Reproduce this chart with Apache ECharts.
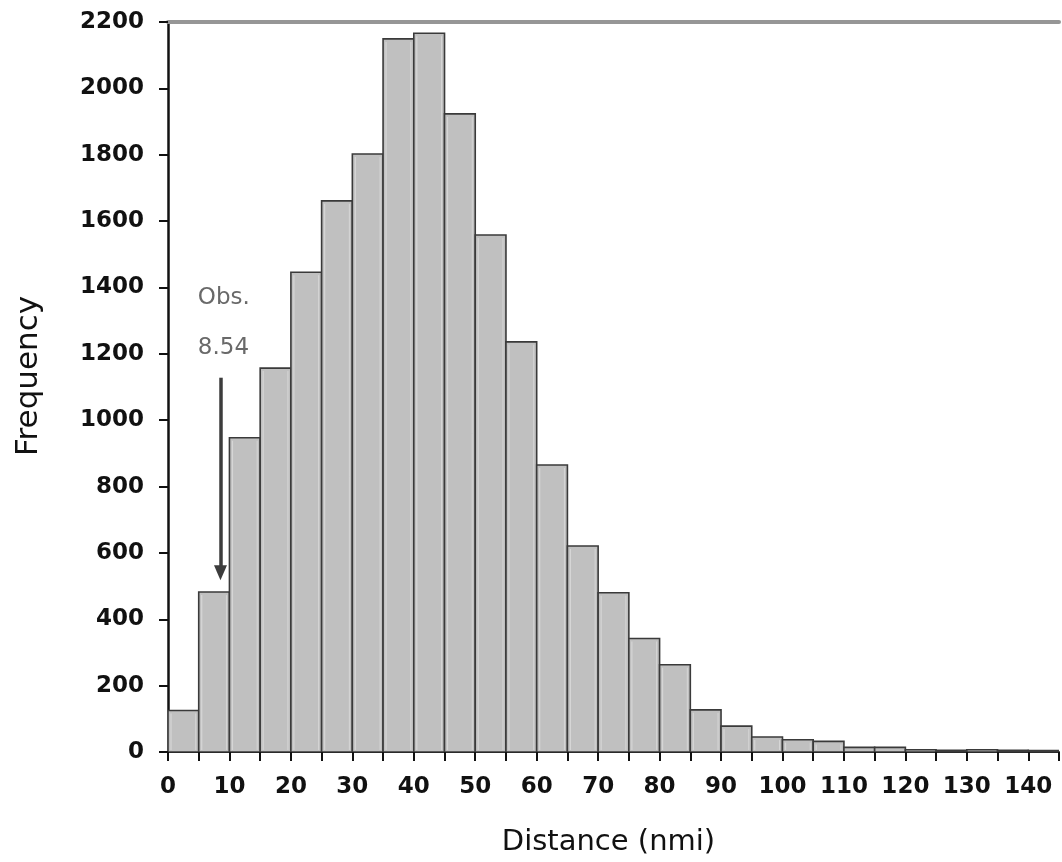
<!DOCTYPE html>
<html>
<head>
<meta charset="utf-8">
<script src="https://cdn.jsdelivr.net/npm/echarts@6/dist/echarts.min.js"></script>
<style>
  html, body { margin: 0; padding: 0; background: #fff; }
  #chart { width: 1062px; height: 862px; }
</style>
</head>
<body>
<div id="chart"></div>
<script>
// Histogram of distances, 5 nmi bins
const binStarts = [0, 5, 10, 15, 20, 25, 30, 35, 40, 45, 50, 55, 60, 65, 70,
                   75, 80, 85, 90, 95, 100, 105, 110, 115, 120, 125, 130, 135, 140];
const binWidth = 5;
const frequencies = [125, 482, 947, 1157, 1446, 1661, 1802, 2149, 2166, 1923, 1558, 1236, 865, 621, 480,
                     342, 263, 127, 78, 45, 37, 32, 14, 14, 7, 5, 7, 5, 4];
const yTicks = [0, 200, 400, 600, 800, 1000, 1200, 1400, 1600, 1800, 2000, 2200];
const xLabelStep = 10;
const observed = 8.54;

const FONT = 'DejaVu Sans';
const histData = binStarts.map((s, i) => [s, s + binWidth, frequencies[i]]);

const chart = echarts.init(document.getElementById('chart'), null, { renderer: 'canvas' });

chart.setOption({
  backgroundColor: '#ffffff',
  animation: false,
  grid: { left: 168, top: 22, width: 897, height: 734.5 },
  xAxis: [{
    type: 'value',
    min: 0, max: 145, interval: binWidth,
    axisLine: { show: true, lineStyle: { color: '#2a2a2a', width: 2 } },
    axisTick: { show: true, inside: false, length: 9, lineStyle: { color: '#111', width: 2 } },
    splitLine: { show: false },
    axisLabel: {
      margin: 24,
      fontFamily: FONT, fontWeight: 'bold', fontSize: 23, color: '#111',
      formatter: v => (v % xLabelStep === 0 ? String(v) : '')
    },
    name: 'Distance (nmi)',
    nameLocation: 'middle',
    nameGap: 76,
    nameTextStyle: { fontFamily: FONT, fontSize: 29, color: '#111', padding: [0, 10, 0, 0] }
  }, {
    type: 'value',
    position: 'top',
    min: 0, max: 145,
    axisLine: { show: true, lineStyle: { color: '#969696', width: 4 } },
    axisTick: { show: false },
    axisLabel: { show: false },
    splitLine: { show: false }
  }],
  yAxis: {
    type: 'value',
    min: yTicks[0], max: yTicks[yTicks.length - 1], interval: yTicks[1] - yTicks[0],
    axisLine: { show: true, lineStyle: { color: '#111', width: 2.5 } },
    axisTick: { show: true, length: 9, lineStyle: { color: '#111', width: 2 } },
    splitLine: { show: false },
    axisLabel: {
      margin: 24,
      fontFamily: FONT, fontWeight: 'bold', fontSize: 23, color: '#111',
      formatter: v => String(v)
    }
  },
  graphic: [{
    type: 'text',
    x: 29, y: 376,
    rotation: Math.PI / 2,
    style: {
      text: 'Frequency',
      font: '31px "DejaVu Sans"',
      fill: '#111',
      align: 'center',
      verticalAlign: 'middle'
    }
  }],
  series: [{
    type: 'custom',
    name: 'Frequency',
    data: histData,
    clip: true,
    renderItem: function (params, api) {
      const p0 = api.coord([api.value(0), 0]);
      const p1 = api.coord([api.value(1), api.value(2)]);
      const x = p0[0], y = p1[1];
      const w = p1[0] - p0[0], h = p0[1] - p1[1];
      const children = [{
        type: 'rect',
        shape: { x: x, y: y, width: w, height: h },
        style: { fill: '#c0c0c0', stroke: '#3a3a3a', lineWidth: 1.6 }
      }];
      if (h > 8) {
        children.push({
          type: 'line',
          shape: { x1: x + 3, y1: y + 3, x2: x + 3, y2: p0[1] - 2 },
          style: { stroke: '#d6d6d6', lineWidth: 1.2 }
        }, {
          type: 'line',
          shape: { x1: x + w - 3, y1: y + 3, x2: x + w - 3, y2: p0[1] - 2 },
          style: { stroke: '#d6d6d6', lineWidth: 1 }
        });
      }
      return { type: 'group', children: children };
    }
  }, {
    type: 'scatter',
    name: 'annotation',
    symbolSize: 0,
    silent: true,
    data: [
      { name: 'Obs.', value: [4.85, 1368] },
      { name: String(observed), value: [4.85, 1218] }
    ],
    label: {
      show: true,
      position: 'right',
      distance: 0,
      formatter: p => p.name,
      fontFamily: FONT, fontSize: 23, color: '#444'
    },
    markLine: {
      silent: true,
      symbol: ['none', 'triangle'],
      symbolSize: [13, 15],
      label: { show: false },
      lineStyle: { color: '#3c3c3c', width: 3.5, type: 'solid' },
      data: [[{ coord: [observed, 1128] }, { coord: [observed, 540] }]]
    }
  }]
});
</script>
</body>
</html>
